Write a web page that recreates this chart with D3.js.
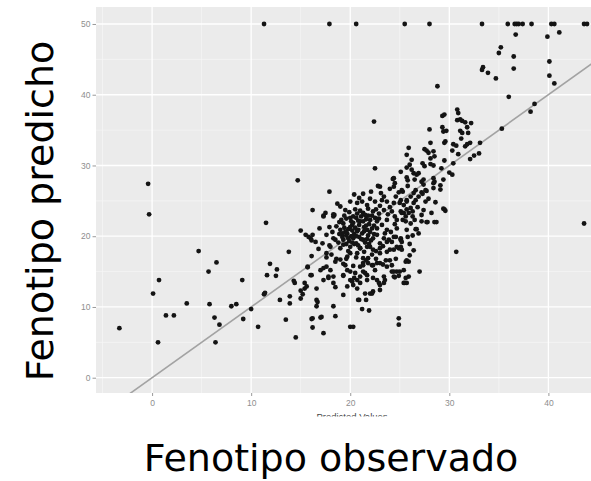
<!DOCTYPE html>
<html>
<head>
<meta charset="utf-8">
<script src="https://cdn.jsdelivr.net/npm/d3@7"></script>
<style>
  html, body { margin: 0; padding: 0; background: #fff; }
  svg { display: block; }
</style>
</head>
<body>
<svg id="chart" width="591" height="481"></svg>
<script>
// ---- data ----
const xTicks = [0, 10, 20, 30, 40];
const yTicks = [0, 10, 20, 30, 40, 50];
const xTitle = "Fenotipo observado";
const yTitle = "Fenotipo predicho";
const innerXLabel = "Predicted Values";

// predicted values of the observations capped at 50
const cappedPredicted = [11.3, 17.9, 20.6, 25.5, 28.0, 33.3, 35.9, 36.6, 36.8, 37.0, 37.4, 38.3, 40.3, 40.6, 43.6, 43.9];
const cappedObserved = 50;

// [predicted, observed]
const lowPoints = [
  [-3.3,7.0],[-0.4,27.4],[-0.3,23.1],[0.1,11.9],[0.7,13.8],[0.6,5.0],[1.4,8.8],[2.2,8.8],[3.5,10.5],[4.7,17.9],
  [5.7,15.0],[5.8,10.4],[6.5,16.3],[6.3,8.5],[6.8,7.5],[6.4,5.0],[8.0,10.1],[8.5,10.4],[9.1,13.8],[9.2,8.3],
  [10.0,9.7],[10.7,7.2],[11.5,21.9],[11.3,11.8],[11.4,12.0],[11.6,14.5],[11.9,16.1],[12.5,14.4],[12.6,15.3],[12.9,11.0]
];

const highPoints = [
  [36.7,48.5],[39.9,48.2],[41.1,48.8],[35.2,46.7],[35.0,45.9],[36.5,45.4],[40.1,44.7],[33.4,43.9],[33.3,43.5],[33.9,43.1],
  [36.5,43.7],[34.7,42.3],[40.1,42.7],[40.6,41.6],[28.8,41.2],[36.0,39.7],[38.6,38.7],[38.2,37.6],[35.3,35.2],[22.4,36.2],
  [43.6,21.8],[30.7,17.8],[27.0,15.0]
];

const upperBand = [
  [30.8,37.9],[30.9,37.4],[29.3,37.0],[29.5,37.2],[30.8,36.4],[31.1,36.5],[31.3,36.3],[31.6,36.1],[32.2,36.0],[29.3,35.4],
  [29.7,34.9],[29.4,34.8],[28.0,35.1],[31.1,34.9],[31.3,34.6],[31.8,35.4],[31.9,34.6],[31.2,33.8],[28.1,33.2],[29.5,33.2],
  [29.6,33.4],[30.4,33.0],[30.7,32.8],[31.6,32.7],[31.8,33.0],[32.1,33.2],[33.1,33.2],[25.9,32.5],[27.5,32.3],[27.7,32.1],
  [27.9,31.8],[28.4,32.0],[25.7,31.5],[28.5,31.3],[28.1,31.0],[30.3,32.1],[30.9,31.6],[32.5,31.4],[33.0,31.7],[32.1,30.9],
  [26.2,30.8],[26.0,30.1],[26.2,29.4],[27.3,30.3],[27.5,29.9],[28.1,30.2],[28.4,30.0],[29.5,30.7],[30.4,30.3],[29.2,29.6],
  [25.1,29.1],[24.3,28.1],[24.5,27.5],[25.7,29.7],[26.4,28.9],[26.7,28.7],[26.9,28.9],[26.5,28.0],[27.2,27.7],[27.4,27.3],
  [28.4,28.2],[28.4,27.5],[30.0,29.0],[30.3,28.7],[29.1,26.6],[27.7,26.4],[27.2,26.2],[26.6,26.5],[25.3,26.3],[25.8,27.1],
  [24.4,28.2],[25.7,28.3],[25.8,27.9],[27.4,28.0],[28.5,27.7],[29.4,28.0],[29.1,27.2],[28.4,26.8],[14.7,27.9],[17.9,26.3],
  [22.5,29.6],[22.8,27.1],[23.0,27.0],[24.4,27.0],[25.2,26.5],[26.4,26.1],[27.6,26.5],[27.3,26.0]
];

const corePoints = [
  [24.9,8.4],[24.9,7.5],[21.2,9.7],[21.9,9.5],[20.9,11.0],[21.6,11.0],[20.0,7.2],[20.3,7.2],[19.3,11.7],[18.5,8.7],
  [18.3,10.1],[17.3,6.3],[17.0,8.5],[17.1,8.6],[16.2,8.4],[16.2,7.1],[16.6,11.0],[16.6,10.1],[14.5,5.7],[13.5,8.2],
  [13.9,11.5],[13.9,10.5],[15.0,11.2],[15.2,11.8],[15.4,12.6],[14.4,13.4],[14.3,13.7],[15.7,15.7],[16.0,14.5],[16.6,12.6],
  [13.8,17.8],[16.1,17.2],[15.0,20.8],[16.2,20.2],[16.5,19.2],[16.0,19.7],[16.2,23.7],[17.3,22.9],[18.4,23.0],[15.5,20.2],
  [15.8,19.9],[16.1,19.4],[15.7,15.6],[15.6,12.9],[15.0,12.3],[16.1,14.5],[16.7,10.7],[16.1,8.3],[15.4,13.4],
  [18.1,17.4],[17.6,17.6],[18.5,16.4],[19.0,16.7],[19.5,15.9],[17.0,15.2],[17.3,15.5],[17.6,15.7],[18.0,15.2],[18.3,14.3],
  [17.3,13.8],[17.8,14.1],[18.3,13.4],[18.5,12.8],[19.7,12.9],[20.0,13.8],[20.4,14.1],[20.7,12.6],[21.0,14.3],[21.3,15.0],
  [21.7,14.5],[22.0,11.9],[22.3,12.2],[22.7,13.8],[23.0,13.1],[23.0,12.4],[23.4,13.4],[23.5,13.8],[22.3,15.9],[22.7,16.2],
  [23.0,16.2],[23.7,15.7],[24.0,16.6],[19.3,14.5],[19.7,15.2],[20.0,15.0],[20.5,14.8],[21.0,15.7],[21.3,15.9],[21.8,16.2],
  [23.0,17.6],[23.7,17.8],[24.4,18.1],[24.7,18.5],[25.1,19.5],[24.9,18.3],[19.7,17.1],[20.0,17.6],[20.7,17.6],[21.3,16.9],
  [21.8,16.9],[22.2,17.4],[21.0,18.3],[21.7,18.5],[22.3,18.1],[23.0,19.0],[23.7,19.2],[24.4,19.9],
  [17.8,14.3],[19.3,14.4],[20.2,13.6],[20.3,13.1],[20.7,13.8],[21.0,13.4],[21.5,14.8],[21.7,13.8],[22.3,14.1],[22.5,15.2],
  [22.9,13.4],[23.4,14.3],[24.2,15.0],[24.7,15.0],[24.4,14.3],[25.4,13.4],[25.7,13.4],[25.9,14.3],[20.8,11.0],[21.5,11.9],
  [22.2,11.9],[25.9,16.4],[25.4,15.2],[25.0,15.0],[24.4,15.0],[25.6,14.1],[25.5,13.4],[24.5,14.2],[24.9,14.4],
  [29.5,23.8],[29.6,23.6],[27.7,22.0],[28.5,22.0],[26.6,21.0]
];

const densePoints = [
  [17.5,23.3],[18.3,23.1],[19.5,23.7],[20.7,24.7],[21.2,24.9],[21.7,24.4],[22.5,24.9],[23.2,25.1],[23.7,24.9],[24.4,24.7],
  [25.0,24.7],[25.7,25.1],[20.3,22.8],[21.3,23.3],[22.3,23.5],[23.4,23.7],[24.2,23.5],[25.2,23.3],[25.9,23.3],[19.3,21.8],
  [20.2,21.6],[21.0,22.1],[22.0,22.3],[22.9,22.5],[23.7,22.3],[24.7,22.3],[25.6,22.1],[17.3,22.8],[18.3,22.8],[19.0,20.9],
  [19.7,20.4],[20.7,20.7],[21.7,20.9],[22.7,21.1],[23.7,20.9],[24.7,21.1],[25.7,20.9],[18.3,19.7],[19.3,19.5],[20.3,19.7],
  [21.3,19.5],[22.3,19.7],[23.4,19.7],[24.2,19.2],[25.1,19.5],[18.0,18.5],[19.0,18.3],[20.0,18.5],[21.0,18.3],[22.0,18.5],
  [23.0,18.3],[24.0,18.1],[25.1,18.3],[17.6,17.0],[18.6,16.8],[19.6,16.8],[20.6,17.0],[21.6,16.6],[22.6,16.8],[23.6,16.6],
  [24.6,16.8],[25.6,16.4],[19.3,16.1],[20.3,15.8],[21.3,16.2],[22.2,15.9],[23.3,16.0],[24.2,15.9],
  [25.1,25.1],[25.7,24.9],[26.4,24.7],[25.4,24.4],[26.6,25.1],[27.6,24.9],[28.6,24.8],[29.4,23.9],[25.1,23.5],[25.4,23.3],
  [25.7,23.8],[26.1,24.0],[26.3,23.5],[25.6,22.8],[26.3,22.8],[26.5,22.3],[27.2,23.0],[25.3,22.3],[27.2,22.1],[27.8,22.0],
  [28.7,22.0],[26.7,21.0],[25.1,19.7],[25.2,19.2],[25.1,18.5],[25.2,18.1],[25.7,16.6],
  [18.8,19.1],[19.2,19.9],[19.6,20.1],[19.9,19.3],[20.1,20.0],[20.4,20.3],[20.6,19.0],[20.9,19.9],[21.2,20.4],[21.5,19.1],
  [21.8,20.1],[22.1,19.4],[22.4,20.3],[19.4,21.2],[19.8,21.0],[20.0,21.3],[20.5,21.2],[20.9,21.6],[21.4,21.3],[21.9,21.7],
  [22.4,21.5],[22.7,20.2],[19.1,22.3],[19.6,22.5],[20.1,22.1],[20.6,22.6],[21.1,22.8],[21.6,22.4],[22.2,22.9],[22.7,22.1],
  [23.2,21.6],[23.5,20.4],[24.1,20.6],[24.5,21.7],[19.9,23.4],[20.5,23.8],[21.0,23.6],[21.8,23.9],[22.6,23.8],[23.0,24.3],
  [23.8,23.1],[24.5,22.8],[24.0,24.1],[19.3,18.8],[19.8,17.9],[20.4,18.9],[21.4,17.8],[22.6,17.9],[23.3,18.6],[23.9,19.5],
  [24.6,19.9],[18.6,21.4],[18.9,22.0],[19.0,24.2],[20.0,24.9],[20.9,25.4],[22.0,25.3],[23.4,25.6],[24.6,25.6],[24.9,26.2],
  [22.1,26.3],[21.3,26.0],[20.4,25.9],[18.7,24.6],[17.9,21.3],[17.6,20.2],[18.2,20.6],[17.9,18.7],[17.2,19.0],[16.8,18.2],
  [16.9,21.1],[24.0,26.7],[23.1,26.1],[26.1,25.6],[26.9,25.6],[27.9,25.3],[28.2,23.3],[27.4,23.7],[26.8,24.1],[26.1,21.8],
  [26.9,20.4],[26.3,20.1],[25.8,19.9],[26.0,18.9],[26.4,18.0],[26.0,17.3],
  [19.5,20.6],[19.8,19.7],[20.2,19.1],[20.6,20.0],[20.8,20.9],[21.1,19.6],[21.4,20.7],[21.7,19.6],[22.0,20.6],[20.3,21.9],
  [20.8,22.2],[21.3,22.1],[21.8,22.9],[20.0,22.6],[19.4,22.9],[22.5,22.6],[19.2,20.4],[21.6,21.5],[20.2,20.8],[22.2,21.1],
  [18.9,20.3],[18.5,19.5],[19.6,18.9],[20.8,18.7],[21.9,18.9],[21.5,23.0],[22.9,23.2],[20.7,23.2]
];

// ---- layout ----
const svg = d3.select("#chart");
const W = 591, H = 481;
const panel = { left: 96, top: 7, right: 591, bottom: 393 };

const x = d3.scaleLinear().domain([-5.66, 44.3]).range([panel.left, panel.right]);
const y = d3.scaleLinear().domain([-2.16, 52.4]).range([panel.bottom, panel.top]);

svg.append("defs").append("clipPath").attr("id", "clip")
  .append("rect")
  .attr("x", panel.left).attr("y", panel.top)
  .attr("width", panel.right - panel.left).attr("height", panel.bottom - panel.top);

svg.append("rect")
  .attr("x", panel.left).attr("y", panel.top)
  .attr("width", panel.right - panel.left).attr("height", panel.bottom - panel.top)
  .attr("fill", "#ebebeb");

const g = svg.append("g").attr("clip-path", "url(#clip)");

const xMinor = [-5, 5, 15, 25, 35, 45];
const yMinor = [5, 15, 25, 35, 45];

g.selectAll(".xminor").data(xMinor).join("line")
  .attr("x1", d => x(d)).attr("x2", d => x(d))
  .attr("y1", panel.top).attr("y2", panel.bottom)
  .attr("stroke", "#f6f6f6").attr("stroke-width", 0.7);
g.selectAll(".yminor").data(yMinor).join("line")
  .attr("y1", d => y(d)).attr("y2", d => y(d))
  .attr("x1", panel.left).attr("x2", panel.right)
  .attr("stroke", "#f6f6f6").attr("stroke-width", 0.7);
g.selectAll(".xmajor").data(xTicks).join("line")
  .attr("x1", d => x(d)).attr("x2", d => x(d))
  .attr("y1", panel.top).attr("y2", panel.bottom)
  .attr("stroke", "#ffffff").attr("stroke-width", 1.3);
g.selectAll(".ymajor").data(yTicks).join("line")
  .attr("y1", d => y(d)).attr("y2", d => y(d))
  .attr("x1", panel.left).attr("x2", panel.right)
  .attr("stroke", "#ffffff").attr("stroke-width", 1.3);

// identity line y = x
g.append("line")
  .attr("x1", x(-6)).attr("y1", y(-6))
  .attr("x2", x(46)).attr("y2", y(46))
  .attr("stroke", "#a3a3a3").attr("stroke-width", 1.6);

const allPoints = [].concat(
  lowPoints, highPoints, upperBand, corePoints, densePoints,
  cappedPredicted.map(p => [p, cappedObserved])
);

g.selectAll(".pt").data(allPoints).join("circle")
  .attr("cx", d => x(d[0])).attr("cy", d => y(d[1]))
  .attr("r", 2.4)
  .attr("fill", "#141414");

// axes
const xAxis = d3.axisBottom(x).tickValues(xTicks).tickSize(3).tickPadding(4);
const yAxis = d3.axisLeft(y).tickValues(yTicks).tickSize(3.5).tickPadding(2);

const gx = svg.append("g").attr("transform", `translate(0,${panel.bottom})`).call(xAxis);
const gy = svg.append("g").attr("transform", `translate(${panel.left},0)`).call(yAxis);
[gx, gy].forEach(a => {
  a.select(".domain").remove();
  a.selectAll(".tick line").attr("stroke", "#9a9a9a").attr("stroke-width", 1);
  a.selectAll(".tick text")
    .attr("fill", "#8e8e8e")
    .style("font-family", "'Liberation Sans', Arial, sans-serif")
    .style("font-size", "8.5px");
});

// small inner axis label (partly hidden in the original)
svg.append("text")
  .attr("x", 352).attr("y", 420)
  .attr("text-anchor", "middle")
  .style("font-family", "'Liberation Sans', Arial, sans-serif")
  .style("font-size", "9.5px")
  .attr("fill", "#444")
  .text(innerXLabel);

svg.append("rect")
  .attr("x", 0).attr("y", 416.5).attr("width", W).attr("height", H - 416.5)
  .attr("fill", "#ffffff");

// big titles
svg.append("text")
  .attr("x", 331).attr("y", 471)
  .attr("text-anchor", "middle")
  .style("font-family", "'DejaVu Sans', Verdana, sans-serif")
  .style("font-size", "38px")
  .attr("fill", "#000")
  .text(xTitle);

svg.append("text")
  .attr("transform", "translate(53,211) rotate(-90)")
  .attr("text-anchor", "middle")
  .style("font-family", "'DejaVu Sans', Verdana, sans-serif")
  .style("font-size", "38px")
  .attr("fill", "#000")
  .text(yTitle);
</script>
</body>
</html>
